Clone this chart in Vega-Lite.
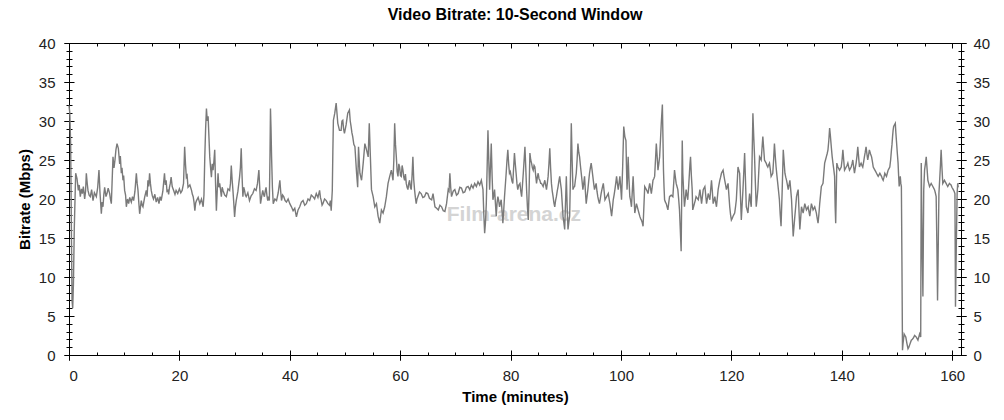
{
"$schema":"https://vega.github.io/schema/vega-lite/v6.json",
"width":892,"height":312,
"autosize":{"type":"none"},
"padding":{"left":69,"top":43,"right":43,"bottom":65},
"background":"white",
"title":{"text":"Video Bitrate: 10-Second Window","font":"Liberation Sans","fontSize":16,"fontWeight":"bold","color":"#000000","anchor":"middle","frame":"group","offset":13},
"config":{"view":{"stroke":null},"axis":{"grid":false,"domainColor":"#000000","domainWidth":1,"tickColor":"#000000","tickWidth":1,"labelFont":"Liberation Sans","labelFontSize":15,"labelColor":"#222222","titleFont":"Liberation Sans","titleFontSize":15,"titleFontWeight":"bold","titleColor":"#000000"}},
"resolve":{"axis":{"x":"independent","y":"independent"}},
"layer":[
{"data":{"values":[{"t":80.6,"v":18,"label":"Film-arena.cz"}]},
"mark":{"type":"text","font":"Liberation Sans","fontSize":21,"fontWeight":"bold","color":"#d4d4d4"},
"encoding":{
"x":{"field":"t","type":"quantitative","scale":{"domain":[0,161.6],"nice":false,"zero":false},"axis":null},
"y":{"field":"v","type":"quantitative","scale":{"domain":[0,40],"nice":false},"axis":null},
"text":{"field":"label"}
}},
{"data":{"values":[
{"t":0.0,"v":32.0},{"t":0.15,"v":31.0},{"t":0.3,"v":27.0},{"t":0.45,"v":14.7},{"t":0.55,"v":7.0},{"t":0.67,"v":6.0},{"t":0.8,"v":9.0},{"t":0.95,"v":16.0},{"t":1.21,"v":23.3},{"t":1.45,"v":22.6},{"t":1.69,"v":21.1},{"t":1.85,"v":21.8},{"t":2.05,"v":20.3},{"t":2.25,"v":21.3},{"t":2.42,"v":20.7},{"t":2.6,"v":21.6},{"t":2.84,"v":20.0},{"t":3.0,"v":21.0},{"t":3.14,"v":23.3},{"t":3.3,"v":22.0},{"t":3.44,"v":21.1},{"t":3.65,"v":20.5},{"t":3.86,"v":20.3},{"t":4.1,"v":21.2},{"t":4.35,"v":19.8},{"t":4.6,"v":20.8},{"t":4.95,"v":20.3},{"t":5.2,"v":21.5},{"t":5.43,"v":23.7},{"t":5.6,"v":21.0},{"t":5.86,"v":18.1},{"t":6.0,"v":19.6},{"t":6.16,"v":19.0},{"t":6.3,"v":20.5},{"t":6.46,"v":21.5},{"t":6.7,"v":20.3},{"t":6.88,"v":20.7},{"t":7.1,"v":21.4},{"t":7.37,"v":20.7},{"t":7.5,"v":20.0},{"t":7.67,"v":19.4},{"t":7.8,"v":22.0},{"t":7.97,"v":25.4},{"t":8.15,"v":24.0},{"t":8.33,"v":25.0},{"t":8.5,"v":26.3},{"t":8.7,"v":27.1},{"t":8.94,"v":26.5},{"t":9.18,"v":24.5},{"t":9.3,"v":25.5},{"t":9.48,"v":23.3},{"t":9.6,"v":24.0},{"t":9.78,"v":22.4},{"t":9.9,"v":23.0},{"t":10.08,"v":21.1},{"t":10.25,"v":20.5},{"t":10.39,"v":19.0},{"t":10.6,"v":20.0},{"t":10.81,"v":19.4},{"t":11.0,"v":20.2},{"t":11.29,"v":19.6},{"t":11.5,"v":20.3},{"t":11.71,"v":19.8},{"t":11.95,"v":21.0},{"t":12.2,"v":23.3},{"t":12.35,"v":22.0},{"t":12.5,"v":21.1},{"t":12.65,"v":19.5},{"t":12.8,"v":18.1},{"t":12.95,"v":19.0},{"t":13.1,"v":19.8},{"t":13.25,"v":19.2},{"t":13.4,"v":19.0},{"t":13.7,"v":20.2},{"t":14.0,"v":21.1},{"t":14.15,"v":20.3},{"t":14.3,"v":22.4},{"t":14.45,"v":21.6},{"t":14.6,"v":23.3},{"t":14.75,"v":22.0},{"t":14.9,"v":21.1},{"t":15.1,"v":20.4},{"t":15.3,"v":20.0},{"t":15.55,"v":20.6},{"t":15.8,"v":19.6},{"t":16.05,"v":20.2},{"t":16.3,"v":19.4},{"t":16.5,"v":20.3},{"t":16.7,"v":19.8},{"t":17.0,"v":21.0},{"t":17.3,"v":23.3},{"t":17.45,"v":21.8},{"t":17.6,"v":22.4},{"t":17.75,"v":21.0},{"t":17.9,"v":21.1},{"t":18.05,"v":20.6},{"t":18.2,"v":21.5},{"t":18.35,"v":22.0},{"t":18.5,"v":22.8},{"t":18.7,"v":21.6},{"t":18.96,"v":21.1},{"t":19.2,"v":20.6},{"t":19.4,"v":21.1},{"t":19.7,"v":20.7},{"t":20.0,"v":21.3},{"t":20.25,"v":20.8},{"t":20.5,"v":21.1},{"t":20.75,"v":22.0},{"t":20.95,"v":26.7},{"t":21.1,"v":24.5},{"t":21.26,"v":22.8},{"t":21.4,"v":23.0},{"t":21.56,"v":21.5},{"t":21.9,"v":21.8},{"t":22.2,"v":21.1},{"t":22.35,"v":20.6},{"t":22.5,"v":20.3},{"t":22.65,"v":19.6},{"t":22.8,"v":18.5},{"t":22.95,"v":19.5},{"t":23.1,"v":19.8},{"t":23.4,"v":20.2},{"t":23.7,"v":19.4},{"t":24.0,"v":20.0},{"t":24.3,"v":19.0},{"t":24.45,"v":20.5},{"t":24.6,"v":25.4},{"t":24.75,"v":29.0},{"t":24.9,"v":31.6},{"t":25.05,"v":30.0},{"t":25.2,"v":30.6},{"t":25.35,"v":28.0},{"t":25.5,"v":25.4},{"t":25.65,"v":24.0},{"t":25.8,"v":22.8},{"t":25.95,"v":24.5},{"t":26.1,"v":23.7},{"t":26.25,"v":24.8},{"t":26.4,"v":26.3},{"t":26.55,"v":22.0},{"t":26.7,"v":18.5},{"t":26.85,"v":21.0},{"t":27.0,"v":23.3},{"t":27.15,"v":21.5},{"t":27.3,"v":22.0},{"t":27.45,"v":21.2},{"t":27.6,"v":20.3},{"t":27.75,"v":21.5},{"t":27.9,"v":21.1},{"t":28.2,"v":20.5},{"t":28.5,"v":20.3},{"t":28.8,"v":21.3},{"t":29.1,"v":21.1},{"t":29.25,"v":22.0},{"t":29.4,"v":24.3},{"t":29.55,"v":22.5},{"t":29.7,"v":21.1},{"t":29.85,"v":19.5},{"t":30.0,"v":17.7},{"t":30.15,"v":19.0},{"t":30.3,"v":19.8},{"t":30.6,"v":21.0},{"t":30.9,"v":22.8},{"t":31.05,"v":24.0},{"t":31.2,"v":26.5},{"t":31.35,"v":23.0},{"t":31.5,"v":20.3},{"t":31.65,"v":21.5},{"t":31.8,"v":21.1},{"t":31.95,"v":20.5},{"t":32.1,"v":20.3},{"t":32.4,"v":20.8},{"t":32.7,"v":19.8},{"t":33.0,"v":20.4},{"t":33.3,"v":20.7},{"t":33.6,"v":21.3},{"t":33.9,"v":21.1},{"t":34.15,"v":22.0},{"t":34.4,"v":23.7},{"t":34.55,"v":21.5},{"t":34.7,"v":19.4},{"t":34.9,"v":20.3},{"t":35.1,"v":21.1},{"t":35.25,"v":20.6},{"t":35.4,"v":20.3},{"t":35.55,"v":21.0},{"t":35.7,"v":21.5},{"t":35.85,"v":20.5},{"t":36.0,"v":19.8},{"t":36.15,"v":20.3},{"t":36.3,"v":19.8},{"t":36.42,"v":26.0},{"t":36.5,"v":31.6},{"t":36.6,"v":29.0},{"t":36.7,"v":25.4},{"t":36.85,"v":21.5},{"t":37.0,"v":19.4},{"t":37.3,"v":20.0},{"t":37.6,"v":19.8},{"t":37.9,"v":20.8},{"t":38.2,"v":22.4},{"t":38.35,"v":21.0},{"t":38.5,"v":19.8},{"t":38.7,"v":20.5},{"t":38.9,"v":20.3},{"t":39.15,"v":19.8},{"t":39.4,"v":19.6},{"t":39.7,"v":20.0},{"t":40.0,"v":19.4},{"t":40.3,"v":19.0},{"t":40.6,"v":18.5},{"t":40.9,"v":18.8},{"t":41.2,"v":17.7},{"t":41.5,"v":18.6},{"t":41.8,"v":19.0},{"t":42.1,"v":19.6},{"t":42.4,"v":19.8},{"t":42.7,"v":19.2},{"t":43.0,"v":19.4},{"t":43.3,"v":20.0},{"t":43.6,"v":19.8},{"t":43.9,"v":20.5},{"t":44.2,"v":20.3},{"t":44.5,"v":20.0},{"t":44.8,"v":20.7},{"t":45.1,"v":20.2},{"t":45.4,"v":21.1},{"t":45.55,"v":20.2},{"t":45.7,"v":19.8},{"t":45.85,"v":19.2},{"t":46.0,"v":19.4},{"t":46.3,"v":20.0},{"t":46.6,"v":19.8},{"t":46.9,"v":19.4},{"t":47.2,"v":19.2},{"t":47.35,"v":19.8},{"t":47.5,"v":18.5},{"t":47.7,"v":21.1},{"t":47.8,"v":26.0},{"t":47.9,"v":30.1},{"t":48.15,"v":31.0},{"t":48.4,"v":32.3},{"t":48.55,"v":31.0},{"t":48.7,"v":29.7},{"t":49.0,"v":28.8},{"t":49.3,"v":28.8},{"t":49.45,"v":30.0},{"t":49.6,"v":30.1},{"t":49.75,"v":29.0},{"t":49.9,"v":28.4},{"t":50.2,"v":29.5},{"t":50.5,"v":31.0},{"t":50.8,"v":31.4},{"t":50.95,"v":30.0},{"t":51.1,"v":29.3},{"t":51.25,"v":28.5},{"t":51.4,"v":28.0},{"t":51.6,"v":27.0},{"t":51.8,"v":26.7},{"t":51.95,"v":25.0},{"t":52.1,"v":23.3},{"t":52.3,"v":21.5},{"t":52.45,"v":26.7},{"t":52.7,"v":23.3},{"t":53.0,"v":22.4},{"t":53.3,"v":24.6},{"t":53.6,"v":27.1},{"t":53.9,"v":26.3},{"t":54.2,"v":25.4},{"t":54.4,"v":29.7},{"t":54.6,"v":25.4},{"t":54.8,"v":21.2},{"t":55.1,"v":20.3},{"t":55.4,"v":19.0},{"t":55.7,"v":19.4},{"t":56.0,"v":17.8},{"t":56.3,"v":16.9},{"t":56.6,"v":18.6},{"t":56.9,"v":18.2},{"t":57.2,"v":19.0},{"t":57.5,"v":20.3},{"t":57.8,"v":22.0},{"t":58.1,"v":22.9},{"t":58.4,"v":23.7},{"t":58.7,"v":22.4},{"t":58.85,"v":25.0},{"t":59.0,"v":29.7},{"t":59.15,"v":27.0},{"t":59.3,"v":25.4},{"t":59.45,"v":23.5},{"t":59.6,"v":22.9},{"t":59.75,"v":24.5},{"t":59.9,"v":24.1},{"t":60.05,"v":23.0},{"t":60.2,"v":22.9},{"t":60.35,"v":24.3},{"t":60.5,"v":23.7},{"t":60.65,"v":22.8},{"t":60.8,"v":22.4},{"t":60.95,"v":23.2},{"t":61.1,"v":22.0},{"t":61.25,"v":21.5},{"t":61.4,"v":21.2},{"t":61.55,"v":22.0},{"t":61.7,"v":22.4},{"t":61.85,"v":21.5},{"t":62.0,"v":21.2},{"t":62.15,"v":23.0},{"t":62.3,"v":25.4},{"t":62.45,"v":22.5},{"t":62.6,"v":21.2},{"t":62.75,"v":20.2},{"t":62.9,"v":19.4},{"t":63.05,"v":20.0},{"t":63.2,"v":20.3},{"t":63.5,"v":20.9},{"t":63.8,"v":20.7},{"t":64.1,"v":20.2},{"t":64.4,"v":20.3},{"t":64.7,"v":20.8},{"t":65.0,"v":20.7},{"t":65.3,"v":20.1},{"t":65.7,"v":19.9},{"t":65.95,"v":20.7},{"t":66.3,"v":19.0},{"t":66.6,"v":18.8},{"t":66.9,"v":18.6},{"t":67.2,"v":19.2},{"t":67.5,"v":19.0},{"t":67.8,"v":18.5},{"t":68.1,"v":18.4},{"t":68.4,"v":19.4},{"t":68.7,"v":21.2},{"t":68.85,"v":21.0},{"t":69.0,"v":23.3},{"t":69.15,"v":21.5},{"t":69.3,"v":20.3},{"t":69.6,"v":21.0},{"t":69.9,"v":21.2},{"t":70.2,"v":20.5},{"t":70.5,"v":20.7},{"t":70.8,"v":21.5},{"t":71.1,"v":21.4},{"t":71.4,"v":20.8},{"t":71.7,"v":20.9},{"t":72.0,"v":21.5},{"t":72.3,"v":21.6},{"t":72.6,"v":21.2},{"t":72.9,"v":21.8},{"t":73.2,"v":21.4},{"t":73.5,"v":22.0},{"t":73.8,"v":21.6},{"t":74.1,"v":22.2},{"t":74.4,"v":21.8},{"t":74.7,"v":22.4},{"t":75.0,"v":21.2},{"t":75.15,"v":18.0},{"t":75.3,"v":15.6},{"t":75.45,"v":17.0},{"t":75.6,"v":19.4},{"t":75.75,"v":24.0},{"t":75.9,"v":28.8},{"t":76.05,"v":25.0},{"t":76.2,"v":21.2},{"t":76.35,"v":24.0},{"t":76.5,"v":27.1},{"t":76.65,"v":23.0},{"t":76.8,"v":19.9},{"t":76.95,"v":20.5},{"t":77.1,"v":21.2},{"t":77.25,"v":19.5},{"t":77.4,"v":17.8},{"t":77.55,"v":19.5},{"t":77.7,"v":20.3},{"t":77.85,"v":19.8},{"t":78.0,"v":19.0},{"t":78.15,"v":19.5},{"t":78.3,"v":19.9},{"t":78.45,"v":18.5},{"t":78.6,"v":16.9},{"t":78.75,"v":18.5},{"t":78.9,"v":20.3},{"t":79.05,"v":21.8},{"t":79.2,"v":23.3},{"t":79.35,"v":25.0},{"t":79.5,"v":26.3},{"t":79.65,"v":24.5},{"t":79.8,"v":23.3},{"t":79.95,"v":23.5},{"t":80.1,"v":22.9},{"t":80.25,"v":22.3},{"t":80.4,"v":22.0},{"t":80.55,"v":24.0},{"t":80.7,"v":25.9},{"t":80.85,"v":24.5},{"t":81.0,"v":23.3},{"t":81.15,"v":22.0},{"t":81.3,"v":21.2},{"t":81.5,"v":21.8},{"t":81.7,"v":22.0},{"t":81.85,"v":21.0},{"t":82.0,"v":20.3},{"t":82.15,"v":21.8},{"t":82.3,"v":23.3},{"t":82.45,"v":25.0},{"t":82.6,"v":26.7},{"t":82.75,"v":24.0},{"t":82.9,"v":21.2},{"t":83.05,"v":19.0},{"t":83.2,"v":17.3},{"t":83.35,"v":21.0},{"t":83.5,"v":25.9},{"t":83.65,"v":25.0},{"t":83.8,"v":24.6},{"t":83.95,"v":24.0},{"t":84.1,"v":23.7},{"t":84.25,"v":24.3},{"t":84.4,"v":24.1},{"t":84.55,"v":23.0},{"t":84.7,"v":22.0},{"t":84.85,"v":22.8},{"t":85.0,"v":23.3},{"t":85.15,"v":22.6},{"t":85.3,"v":22.4},{"t":85.45,"v":22.0},{"t":85.6,"v":22.0},{"t":85.75,"v":21.8},{"t":85.9,"v":21.6},{"t":86.05,"v":22.0},{"t":86.2,"v":22.4},{"t":86.35,"v":21.8},{"t":86.5,"v":21.2},{"t":86.65,"v":22.0},{"t":86.8,"v":22.9},{"t":86.95,"v":24.5},{"t":87.1,"v":26.5},{"t":87.25,"v":24.0},{"t":87.4,"v":22.0},{"t":87.55,"v":21.0},{"t":87.7,"v":20.3},{"t":87.85,"v":19.5},{"t":88.0,"v":19.0},{"t":88.15,"v":19.8},{"t":88.3,"v":20.3},{"t":88.45,"v":21.0},{"t":88.6,"v":21.6},{"t":88.75,"v":22.3},{"t":88.9,"v":22.9},{"t":89.05,"v":22.0},{"t":89.2,"v":21.2},{"t":89.35,"v":19.5},{"t":89.5,"v":17.8},{"t":89.65,"v":17.0},{"t":89.8,"v":16.1},{"t":89.95,"v":19.5},{"t":90.1,"v":22.9},{"t":90.25,"v":19.0},{"t":90.4,"v":16.1},{"t":90.55,"v":17.0},{"t":90.7,"v":17.8},{"t":90.85,"v":23.0},{"t":91.0,"v":29.7},{"t":91.15,"v":25.0},{"t":91.3,"v":21.2},{"t":91.45,"v":21.5},{"t":91.6,"v":21.6},{"t":91.75,"v":22.5},{"t":91.9,"v":23.3},{"t":92.05,"v":25.0},{"t":92.2,"v":27.1},{"t":92.35,"v":26.0},{"t":92.5,"v":25.4},{"t":92.65,"v":24.3},{"t":92.8,"v":23.3},{"t":92.95,"v":22.3},{"t":93.1,"v":21.2},{"t":93.25,"v":22.0},{"t":93.4,"v":22.9},{"t":93.55,"v":21.0},{"t":93.7,"v":19.4},{"t":93.85,"v":20.3},{"t":94.0,"v":21.2},{"t":94.15,"v":22.3},{"t":94.3,"v":23.3},{"t":94.45,"v":24.0},{"t":94.6,"v":24.6},{"t":94.75,"v":23.8},{"t":94.9,"v":22.9},{"t":95.05,"v":22.0},{"t":95.2,"v":21.2},{"t":95.35,"v":21.6},{"t":95.5,"v":22.0},{"t":95.65,"v":21.0},{"t":95.8,"v":20.3},{"t":95.95,"v":19.8},{"t":96.1,"v":19.4},{"t":96.25,"v":20.0},{"t":96.4,"v":20.7},{"t":96.6,"v":21.4},{"t":96.8,"v":22.0},{"t":96.95,"v":21.0},{"t":97.1,"v":19.9},{"t":97.25,"v":20.1},{"t":97.4,"v":20.3},{"t":97.55,"v":20.5},{"t":97.7,"v":20.7},{"t":97.85,"v":20.0},{"t":98.0,"v":19.4},{"t":98.15,"v":18.6},{"t":98.3,"v":17.8},{"t":98.45,"v":18.8},{"t":98.6,"v":19.9},{"t":98.75,"v":20.5},{"t":98.9,"v":21.2},{"t":99.05,"v":22.0},{"t":99.2,"v":22.9},{"t":99.35,"v":22.0},{"t":99.5,"v":21.2},{"t":99.65,"v":22.0},{"t":99.8,"v":22.9},{"t":99.95,"v":21.5},{"t":100.1,"v":19.9},{"t":100.3,"v":24.0},{"t":100.5,"v":29.3},{"t":100.7,"v":28.0},{"t":100.9,"v":27.5},{"t":101.0,"v":24.0},{"t":101.1,"v":21.2},{"t":101.2,"v":23.0},{"t":101.3,"v":25.4},{"t":101.45,"v":22.5},{"t":101.6,"v":20.3},{"t":101.75,"v":19.8},{"t":101.9,"v":19.0},{"t":102.05,"v":21.0},{"t":102.2,"v":22.9},{"t":102.35,"v":20.5},{"t":102.5,"v":18.2},{"t":102.65,"v":18.8},{"t":102.8,"v":19.4},{"t":102.95,"v":19.0},{"t":103.1,"v":18.6},{"t":103.25,"v":18.2},{"t":103.4,"v":17.8},{"t":103.55,"v":17.5},{"t":103.7,"v":17.3},{"t":103.85,"v":17.0},{"t":104.0,"v":16.5},{"t":104.15,"v":19.0},{"t":104.3,"v":21.6},{"t":104.45,"v":21.4},{"t":104.6,"v":21.2},{"t":104.75,"v":21.0},{"t":104.9,"v":20.7},{"t":105.05,"v":21.4},{"t":105.2,"v":22.0},{"t":105.35,"v":21.4},{"t":105.5,"v":20.7},{"t":105.65,"v":21.5},{"t":105.8,"v":22.4},{"t":105.95,"v":22.6},{"t":106.1,"v":22.9},{"t":106.25,"v":25.0},{"t":106.4,"v":27.1},{"t":106.55,"v":25.5},{"t":106.7,"v":23.7},{"t":106.85,"v":24.5},{"t":107.0,"v":25.4},{"t":107.15,"v":27.5},{"t":107.3,"v":29.7},{"t":107.5,"v":32.1},{"t":107.6,"v":28.0},{"t":107.7,"v":23.7},{"t":107.8,"v":21.5},{"t":107.9,"v":19.9},{"t":108.05,"v":19.6},{"t":108.2,"v":19.4},{"t":108.35,"v":19.0},{"t":108.5,"v":18.6},{"t":108.65,"v":19.5},{"t":108.8,"v":20.3},{"t":108.95,"v":20.4},{"t":109.1,"v":20.5},{"t":109.25,"v":20.4},{"t":109.4,"v":20.3},{"t":109.55,"v":22.0},{"t":109.7,"v":23.7},{"t":109.85,"v":22.8},{"t":110.0,"v":22.0},{"t":110.15,"v":21.6},{"t":110.3,"v":21.2},{"t":110.45,"v":20.0},{"t":110.6,"v":18.6},{"t":110.75,"v":16.0},{"t":110.9,"v":13.3},{"t":111.0,"v":20.0},{"t":111.1,"v":27.5},{"t":111.2,"v":23.3},{"t":111.35,"v":21.0},{"t":111.5,"v":19.0},{"t":111.65,"v":20.0},{"t":111.8,"v":21.2},{"t":111.95,"v":20.5},{"t":112.1,"v":19.9},{"t":112.25,"v":21.5},{"t":112.4,"v":23.3},{"t":112.5,"v":24.5},{"t":112.6,"v":25.4},{"t":112.75,"v":23.0},{"t":112.9,"v":21.2},{"t":113.0,"v":18.6},{"t":113.15,"v":19.0},{"t":113.3,"v":19.4},{"t":113.45,"v":19.8},{"t":113.6,"v":20.3},{"t":113.8,"v":20.1},{"t":114.0,"v":19.9},{"t":114.15,"v":20.5},{"t":114.3,"v":21.2},{"t":114.45,"v":20.3},{"t":114.6,"v":19.4},{"t":114.75,"v":20.3},{"t":114.9,"v":21.2},{"t":115.05,"v":21.4},{"t":115.2,"v":21.6},{"t":115.35,"v":20.5},{"t":115.5,"v":19.4},{"t":115.65,"v":20.0},{"t":115.8,"v":20.7},{"t":115.95,"v":20.3},{"t":116.1,"v":19.9},{"t":116.25,"v":21.2},{"t":116.4,"v":22.4},{"t":116.55,"v":21.0},{"t":116.7,"v":19.4},{"t":116.85,"v":19.8},{"t":117.0,"v":20.3},{"t":117.15,"v":19.6},{"t":117.3,"v":19.0},{"t":117.45,"v":20.1},{"t":117.6,"v":21.2},{"t":117.75,"v":21.8},{"t":117.9,"v":22.4},{"t":118.05,"v":22.8},{"t":118.2,"v":23.3},{"t":118.35,"v":23.5},{"t":118.5,"v":23.7},{"t":118.65,"v":23.0},{"t":118.8,"v":22.4},{"t":118.95,"v":21.8},{"t":119.1,"v":21.2},{"t":119.25,"v":21.6},{"t":119.4,"v":22.0},{"t":119.55,"v":20.5},{"t":119.7,"v":19.0},{"t":119.85,"v":18.0},{"t":120.0,"v":17.3},{"t":120.15,"v":17.5},{"t":120.3,"v":17.8},{"t":120.45,"v":18.0},{"t":120.6,"v":18.2},{"t":120.75,"v":19.0},{"t":120.9,"v":19.9},{"t":121.05,"v":22.0},{"t":121.2,"v":24.1},{"t":121.35,"v":23.7},{"t":121.5,"v":23.3},{"t":121.65,"v":20.3},{"t":121.8,"v":17.3},{"t":121.95,"v":19.3},{"t":122.1,"v":21.2},{"t":122.25,"v":23.5},{"t":122.4,"v":25.9},{"t":122.55,"v":22.5},{"t":122.7,"v":19.0},{"t":122.85,"v":18.6},{"t":123.0,"v":18.2},{"t":123.15,"v":19.5},{"t":123.3,"v":20.7},{"t":123.45,"v":19.8},{"t":123.6,"v":19.0},{"t":123.75,"v":25.0},{"t":123.9,"v":31.0},{"t":124.05,"v":28.0},{"t":124.2,"v":25.4},{"t":124.35,"v":22.0},{"t":124.5,"v":19.0},{"t":124.65,"v":20.0},{"t":124.8,"v":21.2},{"t":124.95,"v":23.3},{"t":125.1,"v":25.4},{"t":125.25,"v":25.2},{"t":125.4,"v":25.0},{"t":125.55,"v":26.5},{"t":125.7,"v":28.0},{"t":125.85,"v":26.5},{"t":126.0,"v":25.0},{"t":126.15,"v":24.8},{"t":126.3,"v":24.6},{"t":126.45,"v":24.3},{"t":126.6,"v":24.1},{"t":126.75,"v":24.4},{"t":126.9,"v":24.6},{"t":127.05,"v":23.8},{"t":127.2,"v":22.9},{"t":127.35,"v":23.1},{"t":127.5,"v":23.3},{"t":127.65,"v":25.0},{"t":127.8,"v":27.1},{"t":127.95,"v":25.5},{"t":128.1,"v":24.1},{"t":128.25,"v":23.0},{"t":128.4,"v":22.0},{"t":128.55,"v":21.0},{"t":128.7,"v":19.9},{"t":128.85,"v":18.0},{"t":129.0,"v":16.5},{"t":129.2,"v":21.0},{"t":129.4,"v":26.3},{"t":129.55,"v":24.8},{"t":129.7,"v":23.3},{"t":129.85,"v":22.8},{"t":130.0,"v":22.4},{"t":130.15,"v":21.8},{"t":130.3,"v":21.2},{"t":130.45,"v":21.8},{"t":130.6,"v":22.4},{"t":130.75,"v":21.2},{"t":130.9,"v":19.9},{"t":131.05,"v":17.5},{"t":131.2,"v":15.2},{"t":131.35,"v":16.5},{"t":131.5,"v":17.8},{"t":131.65,"v":19.0},{"t":131.8,"v":20.3},{"t":131.95,"v":20.8},{"t":132.1,"v":21.2},{"t":132.25,"v":18.5},{"t":132.4,"v":16.1},{"t":132.55,"v":17.5},{"t":132.7,"v":19.0},{"t":132.85,"v":18.6},{"t":133.0,"v":18.2},{"t":133.15,"v":18.8},{"t":133.3,"v":19.4},{"t":133.45,"v":19.0},{"t":133.6,"v":18.6},{"t":133.75,"v":18.8},{"t":133.9,"v":19.0},{"t":134.05,"v":18.4},{"t":134.2,"v":17.8},{"t":134.35,"v":18.6},{"t":134.5,"v":19.4},{"t":134.65,"v":19.0},{"t":134.8,"v":18.6},{"t":134.95,"v":18.8},{"t":135.1,"v":19.0},{"t":135.25,"v":18.6},{"t":135.4,"v":18.2},{"t":135.55,"v":17.5},{"t":135.7,"v":16.9},{"t":135.85,"v":18.0},{"t":136.0,"v":19.4},{"t":136.15,"v":20.5},{"t":136.3,"v":21.6},{"t":136.45,"v":21.8},{"t":136.6,"v":22.0},{"t":136.75,"v":23.3},{"t":136.9,"v":24.6},{"t":137.05,"v":25.0},{"t":137.2,"v":25.4},{"t":137.35,"v":25.8},{"t":137.5,"v":26.3},{"t":137.65,"v":27.5},{"t":137.8,"v":29.1},{"t":137.95,"v":28.0},{"t":138.1,"v":26.7},{"t":138.25,"v":25.5},{"t":138.4,"v":24.6},{"t":138.55,"v":23.8},{"t":138.7,"v":22.9},{"t":138.8,"v":19.0},{"t":138.9,"v":16.9},{"t":139.0,"v":20.5},{"t":139.1,"v":24.6},{"t":139.3,"v":24.1},{"t":139.45,"v":23.9},{"t":139.6,"v":23.7},{"t":139.75,"v":23.9},{"t":139.9,"v":24.1},{"t":140.05,"v":25.0},{"t":140.2,"v":26.3},{"t":140.35,"v":25.0},{"t":140.5,"v":23.7},{"t":140.65,"v":23.9},{"t":140.8,"v":24.1},{"t":140.95,"v":24.3},{"t":141.1,"v":24.6},{"t":141.25,"v":24.1},{"t":141.4,"v":23.7},{"t":141.55,"v":23.9},{"t":141.7,"v":24.1},{"t":141.85,"v":24.5},{"t":142.0,"v":25.0},{"t":142.15,"v":24.1},{"t":142.3,"v":23.3},{"t":142.45,"v":24.0},{"t":142.6,"v":24.6},{"t":142.75,"v":25.5},{"t":142.9,"v":26.7},{"t":143.05,"v":25.4},{"t":143.2,"v":24.1},{"t":143.35,"v":24.4},{"t":143.5,"v":24.6},{"t":143.65,"v":24.3},{"t":143.8,"v":24.1},{"t":143.95,"v":24.7},{"t":144.1,"v":25.4},{"t":144.25,"v":26.0},{"t":144.4,"v":26.7},{"t":144.55,"v":25.8},{"t":144.7,"v":25.0},{"t":144.85,"v":25.6},{"t":145.0,"v":26.3},{"t":145.2,"v":25.8},{"t":145.4,"v":25.4},{"t":145.55,"v":24.8},{"t":145.7,"v":24.1},{"t":145.85,"v":23.9},{"t":146.0,"v":23.7},{"t":146.15,"v":23.5},{"t":146.3,"v":23.3},{"t":146.45,"v":23.1},{"t":146.6,"v":22.9},{"t":146.75,"v":23.1},{"t":146.9,"v":23.3},{"t":147.05,"v":23.1},{"t":147.2,"v":22.9},{"t":147.35,"v":22.6},{"t":147.5,"v":22.4},{"t":147.65,"v":22.8},{"t":147.8,"v":23.3},{"t":147.95,"v":23.1},{"t":148.1,"v":22.9},{"t":148.25,"v":23.3},{"t":148.4,"v":23.7},{"t":148.55,"v":23.9},{"t":148.7,"v":24.1},{"t":148.85,"v":25.0},{"t":149.0,"v":26.3},{"t":149.1,"v":27.0},{"t":149.2,"v":28.0},{"t":149.3,"v":28.8},{"t":149.4,"v":29.3},{"t":149.55,"v":29.5},{"t":149.7,"v":29.7},{"t":149.8,"v":28.5},{"t":149.9,"v":27.5},{"t":150.05,"v":26.0},{"t":150.2,"v":24.6},{"t":150.3,"v":23.0},{"t":150.4,"v":21.6},{"t":150.5,"v":22.3},{"t":150.6,"v":22.9},{"t":150.7,"v":22.0},{"t":150.8,"v":21.6},{"t":150.9,"v":12.0},{"t":151.0,"v":0.6},{"t":151.1,"v":1.5},{"t":151.3,"v":2.7},{"t":151.45,"v":2.5},{"t":151.6,"v":2.3},{"t":151.8,"v":1.5},{"t":152.0,"v":0.8},{"t":152.15,"v":1.0},{"t":152.3,"v":1.3},{"t":152.45,"v":1.6},{"t":152.6,"v":1.9},{"t":152.75,"v":2.0},{"t":152.9,"v":2.1},{"t":153.05,"v":2.3},{"t":153.2,"v":2.5},{"t":153.35,"v":2.4},{"t":153.5,"v":2.3},{"t":153.65,"v":2.1},{"t":153.8,"v":1.9},{"t":153.95,"v":2.3},{"t":154.1,"v":2.7},{"t":154.2,"v":2.5},{"t":154.3,"v":2.3},{"t":154.4,"v":24.6},{"t":154.55,"v":15.0},{"t":154.7,"v":7.5},{"t":154.85,"v":21.2},{"t":155.0,"v":23.7},{"t":155.15,"v":24.5},{"t":155.3,"v":25.4},{"t":155.45,"v":23.9},{"t":155.6,"v":22.4},{"t":155.75,"v":22.0},{"t":155.9,"v":21.6},{"t":156.05,"v":21.8},{"t":156.2,"v":22.0},{"t":156.35,"v":21.8},{"t":156.5,"v":21.6},{"t":156.65,"v":21.4},{"t":156.8,"v":21.2},{"t":156.95,"v":20.8},{"t":157.1,"v":20.3},{"t":157.25,"v":13.0},{"t":157.35,"v":7.0},{"t":157.5,"v":15.0},{"t":157.6,"v":20.7},{"t":157.7,"v":22.0},{"t":157.85,"v":24.0},{"t":158.0,"v":26.3},{"t":158.15,"v":24.0},{"t":158.3,"v":22.0},{"t":158.45,"v":22.2},{"t":158.6,"v":22.4},{"t":158.75,"v":22.2},{"t":158.9,"v":22.0},{"t":159.05,"v":21.8},{"t":159.2,"v":21.6},{"t":159.35,"v":21.8},{"t":159.5,"v":22.0},{"t":159.65,"v":21.9},{"t":159.8,"v":21.8},{"t":159.95,"v":21.5},{"t":160.2,"v":21.2},{"t":160.35,"v":21.0},{"t":160.5,"v":20.7},{"t":160.6,"v":6.2},{"t":160.75,"v":14.0},{"t":160.9,"v":20.7},{"t":161.0,"v":22.0},{"t":161.1,"v":21.5}
]},
"mark":{"type":"line","color":"#7a7a7a","strokeWidth":1.4},
"encoding":{
"x":{"field":"t","type":"quantitative","scale":{"domain":[0,161.6],"nice":false,"zero":false},"axis":{"orient":"bottom","values":[0,20,40,60,80,100,120,140,160],"tickSize":5,"labelPadding":8,"title":"Time (minutes)","titlePadding":6}},
"y":{"field":"v","type":"quantitative","scale":{"domain":[0,40],"nice":false},"axis":{"orient":"left","values":[0,5,10,15,20,25,30,35,40],"tickSize":5,"labelPadding":9,"title":"Bitrate (Mbps)","titlePadding":6}}
}},
{"data":{"values":[{"t":0,"v":0}]},
"mark":{"type":"point","opacity":0},
"encoding":{
"x":{"field":"t","type":"quantitative","axis":{"orient":"bottom","values":[0,20,40,60,80,100,120,140,160],"tickSize":10,"offset":-5,"domain":false,"labels":false,"title":null}},
"y":{"field":"v","type":"quantitative","axis":{"orient":"left","values":[0,5,10,15,20,25,30,35,40],"tickSize":10,"offset":-5,"domain":false,"labels":false,"title":null}}
}},
{"data":{"values":[{"t":0,"v":0}]},
"mark":{"type":"point","opacity":0},
"encoding":{
"x":{"field":"t","type":"quantitative","axis":{"orient":"bottom","values":[5,10,15,25,30,35,45,50,55,65,70,75,85,90,95,105,110,115,125,130,135,145,150,155],"tickSize":3,"offset":-3,"domain":false,"labels":false,"title":null}},
"y":{"field":"v","type":"quantitative","axis":{"orient":"left","values":[1,2,3,4,6,7,8,9,11,12,13,14,16,17,18,19,21,22,23,24,26,27,28,29,31,32,33,34,36,37,38,39],"tickSize":6,"offset":-3,"domain":false,"labels":false,"title":null}}
}},
{"data":{"values":[{"t":0,"v":0}]},
"mark":{"type":"point","opacity":0},
"encoding":{
"x":{"field":"t","type":"quantitative","axis":{"orient":"top","values":[0,20,40,60,80,100,120,140,160],"tickSize":-5,"domain":true,"labels":false,"title":null}},
"y":{"field":"v","type":"quantitative","axis":{"orient":"right","values":[0,5,10,15,20,25,30,35,40],"tickSize":5,"labelPadding":7,"domain":true,"title":null}}
}},
{"data":{"values":[{"t":0,"v":0}]},
"mark":{"type":"point","opacity":0},
"encoding":{
"x":{"field":"t","type":"quantitative","axis":{"orient":"top","values":[5,10,15,25,30,35,45,50,55,65,70,75,85,90,95,105,110,115,125,130,135,145,150,155],"tickSize":-3,"domain":false,"labels":false,"title":null}},
"y":{"field":"v","type":"quantitative","axis":{"orient":"right","values":[0,5,10,15,20,25,30,35,40],"tickSize":10,"offset":-5,"domain":false,"labels":false,"title":null}}
}},
{"data":{"values":[{"t":0,"v":0}]},
"mark":{"type":"point","opacity":0},
"encoding":{
"x":{"field":"t","type":"quantitative","axis":null},
"y":{"field":"v","type":"quantitative","axis":{"orient":"right","values":[1,2,3,4,6,7,8,9,11,12,13,14,16,17,18,19,21,22,23,24,26,27,28,29,31,32,33,34,36,37,38,39],"tickSize":6,"offset":-3,"domain":false,"labels":false,"title":null}}
}}
]
}
